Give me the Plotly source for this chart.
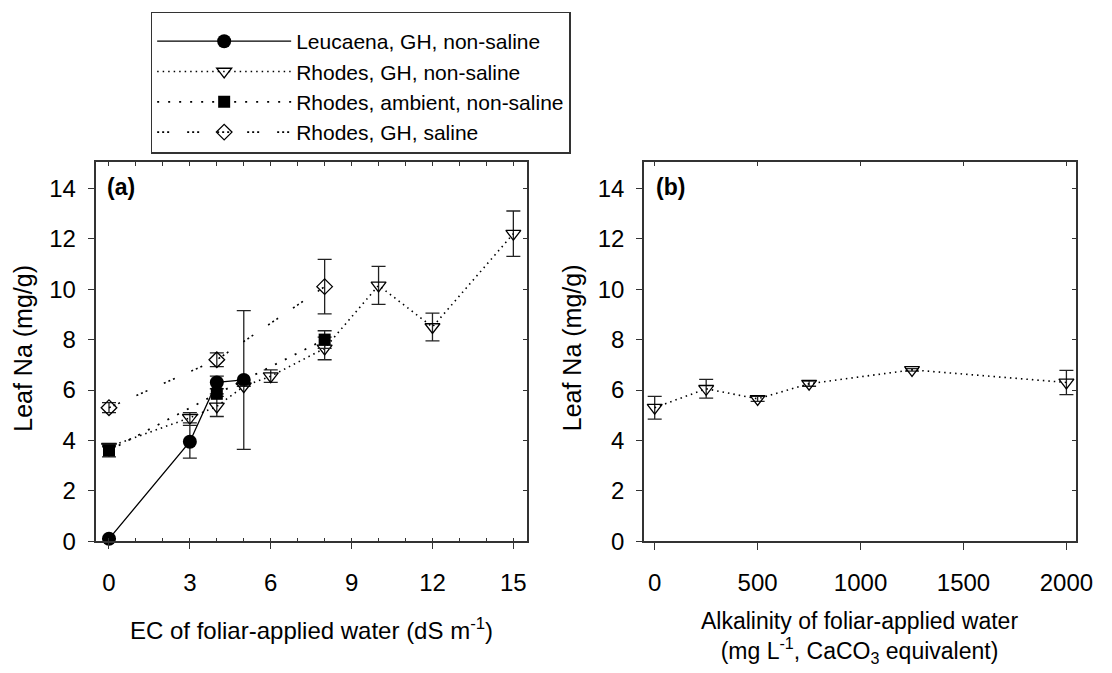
import plotly.graph_objects as go

W, H = 1112, 673

# ---------------- data: panel (a) ----------------
leu_x = [0, 3, 4, 5]
leu_y = [0.1, 3.95, 6.3, 6.4]
leu_err = [0.0, 0.65, 0.25, 2.75]

rgh_x = [0, 3, 4, 5, 6, 8, 10, 12, 15]
rgh_y = [3.75, 4.9, 5.35, 6.15, 6.55, 7.65, 10.15, 8.5, 12.2]
rgh_err = [0.0, 0.2, 0.4, 0.0, 0.25, 0.45, 0.75, 0.55, 0.9]

amb_x = [0, 4, 8]
amb_y = [3.6, 5.85, 8.0]
amb_err = [0.25, 0.0, 0.35]

sal_x = [0, 4, 8]
sal_y = [5.3, 7.2, 10.1]
sal_err = [0.2, 0.27, 1.08]

# ---------------- data: panel (b) ----------------
alk_x = [0, 250, 500, 750, 1250, 2000]
alk_y = [5.3, 6.05, 5.65, 6.25, 6.8, 6.3]
alk_err = [0.45, 0.37, 0.1, 0.1, 0.05, 0.48]

names = ["Leucaena, GH, non-saline", "Rhodes, GH, non-saline",
         "Rhodes, ambient, non-saline", "Rhodes, GH, saline"]

a_xticks = [0, 3, 6, 9, 12, 15]
b_xticks = [0, 500, 1000, 1500, 2000]
y_ticks = [0, 2, 4, 6, 8, 10, 12, 14]

FONT = "Liberation Sans, Arial, sans-serif"
AX = "#333333"
TICKFS = 24


def px(x):
    return x / W


def py(y):
    return 1 - y / H


def err(v):
    return dict(type="data", array=v, visible=True, color="#222222",
                thickness=1.3, width=7)


fig = go.Figure()

dash_dot = "1.5px,4px"
dash_amb = "2px,9px,2px,9px,2px,9px"
dash_sal = "2px,3px,2px,3px,2px,18px"

fig.add_trace(go.Scatter(
    x=leu_x, y=leu_y, name=names[0], mode="lines+markers",
    line=dict(color="black", width=1.3),
    marker=dict(symbol="circle", size=14, color="black"),
    error_y=err(leu_err), cliponaxis=False, xaxis="x", yaxis="y"))

fig.add_trace(go.Scatter(
    x=rgh_x, y=rgh_y, name=names[1], mode="lines+markers",
    line=dict(color="black", width=1.6, dash=dash_dot),
    marker=dict(symbol="triangle-down-open", size=13, color="black",
                line=dict(width=1.3, color="black")),
    error_y=err(rgh_err), cliponaxis=False, xaxis="x", yaxis="y"))

fig.add_trace(go.Scatter(
    x=amb_x, y=amb_y, name=names[2], mode="lines+markers",
    line=dict(color="black", width=1.8, dash=dash_amb),
    marker=dict(symbol="square", size=12, color="black"),
    error_y=err(amb_err), cliponaxis=False, xaxis="x", yaxis="y"))

fig.add_trace(go.Scatter(
    x=sal_x, y=sal_y, name=names[3], mode="lines+markers",
    line=dict(color="black", width=1.6, dash=dash_sal),
    marker=dict(symbol="diamond-open", size=12, color="black",
                line=dict(width=1.3, color="black")),
    error_y=err(sal_err), cliponaxis=False, xaxis="x", yaxis="y"))

fig.add_trace(go.Scatter(
    x=alk_x, y=alk_y, name=names[1], mode="lines+markers", showlegend=False,
    line=dict(color="black", width=1.6, dash=dash_dot),
    marker=dict(symbol="triangle-down-open", size=13, color="black",
                line=dict(width=1.3, color="black")),
    error_y=err(alk_err), cliponaxis=False, xaxis="x2", yaxis="y2"))

# dummy traces so the overlay tick axes are drawn
for xa, ya in [("x3", "y"), ("x", "y3"), ("x4", "y2"), ("x2", "y4")]:
    fig.add_trace(go.Scatter(x=[None], y=[None], xaxis=xa, yaxis=ya,
                             showlegend=False, hoverinfo="skip"))

a_dom = [px(97), px(535)]
b_dom = [px(654), px(1093)]
y_dom = [py(552), py(165)]
a_rng = [-0.5, 15.5]
b_rng = [-52, 2048]
y_rng = [0, 15.05]

base = dict(showgrid=False, zeroline=False, showline=True, linecolor=AX,
            linewidth=1.5, mirror=True, tickcolor=AX, tickwidth=1.3,
            tickfont=dict(size=TICKFS, color="black", family=FONT),
            autorange=False)

over = dict(showgrid=False, zeroline=False, showline=False,
            showticklabels=False, ticks="inside", ticklen=4,
            tickcolor=AX, tickwidth=1.2, autorange=False)

fig.update_layout(
    width=W, height=H, margin=dict(l=0, r=0, t=0, b=0),
    paper_bgcolor="white", plot_bgcolor="white",
    font=dict(family=FONT, color="black"),
    xaxis=dict(domain=a_dom, range=a_rng, anchor="y", tickvals=a_xticks,
               ticks="outside", ticklen=6, ticklabelstandoff=13,
               minor=dict(ticks="inside", dtick=1, tick0=0, ticklen=4,
                          tickcolor=AX, tickwidth=1.2), **base),
    yaxis=dict(domain=y_dom, range=y_rng, anchor="x", tickvals=y_ticks,
               ticks="outside", ticklen=6, ticklabelstandoff=7, **base),
    xaxis2=dict(domain=b_dom, range=b_rng, anchor="y2", tickvals=b_xticks,
                ticks="outside", ticklen=7, ticklabelstandoff=12, **base),
    yaxis2=dict(domain=y_dom, range=y_rng, anchor="x2", tickvals=y_ticks,
                ticks="outside", ticklen=6, ticklabelstandoff=7, **base),
    xaxis3=dict(overlaying="x", anchor="y", side="top", range=a_rng,
                tick0=0, dtick=1, **over),
    yaxis3=dict(overlaying="y", anchor="x", side="right", range=y_rng,
                tick0=0, dtick=2, **over),
    xaxis4=dict(overlaying="x2", anchor="y2", side="top", range=b_rng,
                tick0=0, dtick=500, **over),
    yaxis4=dict(overlaying="y2", anchor="x2", side="right", range=y_rng,
                tick0=0, dtick=2, **over),
    legend=dict(x=px(153), y=py(12), xanchor="left", yanchor="top",
                bordercolor=AX, borderwidth=1.5, bgcolor="white",
                font=dict(size=21, family=FONT, color="black"),
                itemwidth=134, tracegroupgap=0,
                title=dict(text=" ", font=dict(size=6))),
    showlegend=True,
)

ann = [
    dict(text="Leaf Na (mg/g)", x=px(24), y=py(355), textangle=-90, size=25),
    dict(text="Leaf Na (mg/g)", x=px(581), y=py(355), textangle=-90, size=25),
    dict(text="EC of foliar-applied water (dS m<sup>-1</sup>)",
         x=px(316), y=py(641), size=24),
    dict(text="Alkalinity of foliar-applied water<br>(mg L<sup>-1</sup>, CaCO<sub>3</sub> equivalent)",
         x=px(873), y=py(650), size=23),
]
for a in ann:
    s = a.pop("size")
    fig.add_annotation(xref="paper", yref="paper", showarrow=False,
                       xanchor="center", yanchor="middle",
                       font=dict(size=s, family=FONT, color="black"), **a)

for lab, xx in [("<b>(a)</b>", 107), ("<b>(b)</b>", 664)]:
    fig.add_annotation(xref="paper", yref="paper", showarrow=False,
                       text=lab, x=px(xx), y=py(191), xanchor="left",
                       yanchor="middle",
                       font=dict(size=23, family=FONT, color="black"))

fig.write_html("out.html")
